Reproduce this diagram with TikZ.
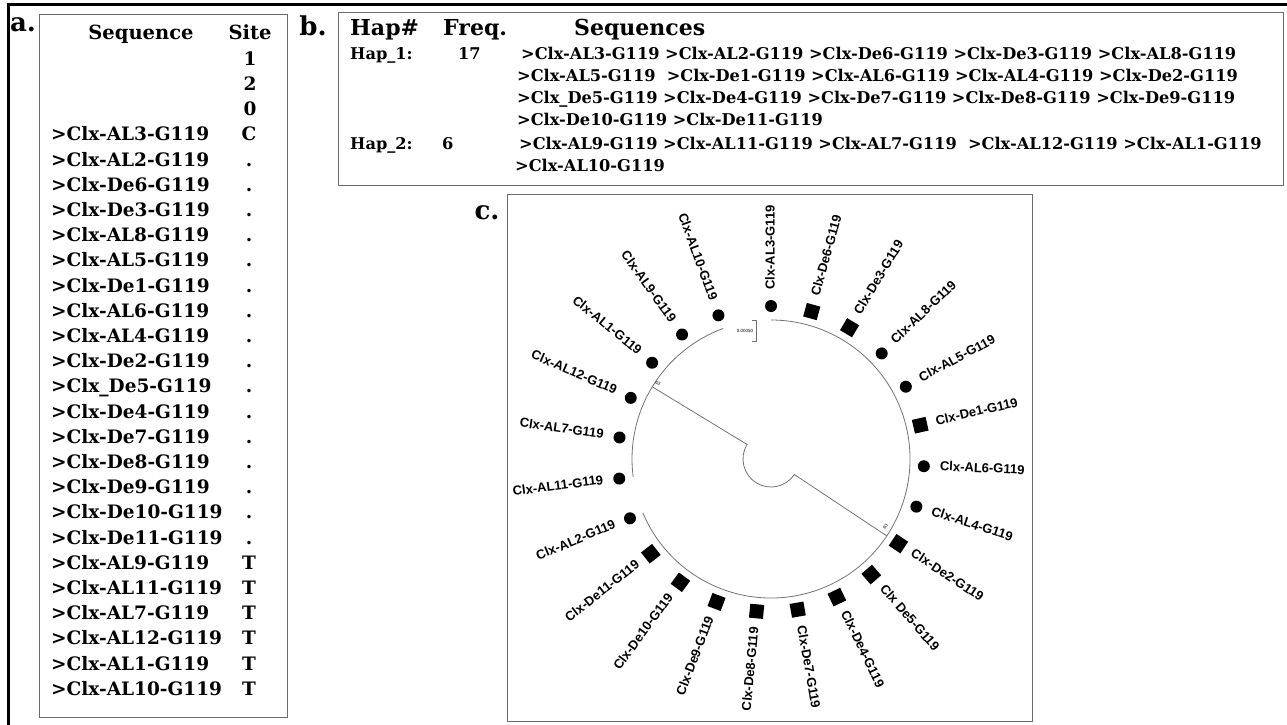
\documentclass[tikz,border=0pt]{standalone}
\usepackage{fontspec}
\setmainfont{DejaVu Serif}
\setsansfont{Liberation Sans}
\usepackage{tikz}

\definecolor{boxgray}{rgb}{0.42,0.42,0.42}
\definecolor{treegray}{rgb}{0.45,0.45,0.45}

\begin{document}
\begin{tikzpicture}[x=1pt,y=-1pt,line join=miter,
  panelbox/.style={draw=boxgray,line width=0.9pt},
  tag/.style={inner sep=0pt,font=\fontsize{26}{26}\selectfont\bfseries},
  headA/.style={inner sep=0pt,text height=14pt,text depth=4pt,font=\fontsize{19.5}{19.5}\selectfont\bfseries},
  rowA/.style={inner sep=0pt,anchor=west,text height=13pt,text depth=3pt,font=\fontsize{18.5}{18.5}\selectfont\bfseries},
  siteA/.style={inner sep=0pt,text height=13pt,text depth=3pt,font=\fontsize{18.5}{18.5}\selectfont\bfseries},
  headB/.style={inner sep=0pt,anchor=west,text height=16pt,text depth=4pt,font=\fontsize{22}{22}\selectfont\bfseries},
  rowB/.style={inner sep=0pt,anchor=west,text height=12pt,text depth=3pt,font=\fontsize{16.2}{16.2}\selectfont\bfseries},
  leafdot/.style={circle,fill=black,inner sep=0pt,minimum size=12pt},
  leafbox/.style={rectangle,fill=black,inner sep=0pt,minimum size=14pt},
  leaflabel/.style={inner sep=0pt,text height=9pt,text depth=2pt,font=\fontsize{13}{13}\selectfont\sffamily\bfseries},
  branch/.style={draw=treegray,line width=0.8pt},
  tiny/.style={inner sep=0pt,font=\fontsize{4.5}{4.5}\selectfont\sffamily}]
\useasboundingbox (0,0) rectangle (1287,725);
%%
% Frame
\draw[line width=3pt] (8,725) -- (8,5) -- (1287,5);
%%
% Panel a: site table
\draw[panelbox] (39,14) rectangle (287,717);
\node[tag] (taga) at (23,25) {a.};
\node[headA] (hseq) at (141,35) {Sequence};
\node[headA] (hsite) at (250,35) {Site};
\node[siteA] (d1) at (250,60.2) {1};
\node[siteA] (d2) at (250,85.4) {2};
\node[siteA] (d3) at (250,110.6) {0};
\foreach \nm/\st [count=\k] in {-AL3/C,-AL2/.,-De6/.,-De3/.,-AL8/.,-AL5/.,-De1/.,-AL6/.,
    -AL4/.,-De2/.,\_De5/.,-De4/.,-De7/.,-De8/.,-De9/.,-De10/.,-De11/.,
    -AL9/T,-AL11/T,-AL7/T,-AL12/T,-AL1/T,-AL10/T}{
  \node[rowA] (a\k) at (51,{110.6+25.2*\k}) {>Clx\nm-G119};
  \node[siteA] (s\k) at (249,{110.6+25.2*\k}) {\st};
}
%%
% Panel b: haplotypes
\draw[panelbox] (338,12) rectangle (1283,185);
\node[tag] (tagb) at (313,26) {b.};
\node[headB] (hhap) at (350,30) {Hap\#};
\node[headB] (hfreq) at (443,30) {Freq.};
\node[headB] (hseqs) at (574,30) {Sequences};
\node[rowB] (hap1) at (350,55) {Hap\_1:};
\node[rowB] (f1) at (458,55) {17};
\node[rowB] (b1) at (521,55) {>Clx-AL3-G119 >Clx-AL2-G119 >Clx-De6-G119 >Clx-De3-G119 >Clx-AL8-G119};
\node[rowB] (b2) at (517,77) {>Clx-AL5-G119\ \ >Clx-De1-G119 >Clx-AL6-G119 >Clx-AL4-G119 >Clx-De2-G119};
\node[rowB] (b3) at (517,99) {>Clx\_De5-G119 >Clx-De4-G119 >Clx-De7-G119 >Clx-De8-G119 >Clx-De9-G119};
\node[rowB] (b4) at (517,121) {>Clx-De10-G119 >Clx-De11-G119};
\node[rowB] (hap2) at (350,145) {Hap\_2:};
\node[rowB] (f2) at (442,145) {6};
\node[rowB] (b5) at (519,145) {>Clx-AL9-G119 >Clx-AL11-G119 >Clx-AL7-G119\ \ >Clx-AL12-G119 >Clx-AL1-G119};
\node[rowB] (b6) at (515,167) {>Clx-AL10-G119};
%%
% Panel c: circular tree
\draw[panelbox] (507,194) rectangle (1032,721);
\node[tag] (tagc) at (487,213) {c.};
\begin{scope}[shift={(771,459)},yscale=-1]
  \coordinate (root) at (0,0);
  % clades
  \draw[branch] (-157.2:139) arc[start angle=-157.2,end angle=90,radius=139];
  \draw[branch] (110.1:139) arc[start angle=110.1,end angle=187.35,radius=139];
  \draw[branch] (148.7:139) -- (148.7:28) arc[start angle=148.7,end angle=326.4,radius=28] -- (326.4:139);
  \node[tiny,rotate=-31] (boot1) at (146.3:136) {63};
  \node[tiny,rotate=58] (boot2) at (-30.6:133) {63};
  % leaves
  \foreach \nm/\kind [count=\i from 0] in {AL3/leafdot,De6/leafbox,De3/leafbox,AL8/leafdot,
      AL5/leafdot,De1/leafbox,AL6/leafdot,AL4/leafdot,De2/leafbox,De5/leafbox,De4/leafbox,
      De7/leafbox,De8/leafbox,De9/leafbox,De10/leafbox,De11/leafbox,AL2/leafdot,AL11/leafdot,
      AL7/leafdot,AL12/leafdot,AL1/leafdot,AL9/leafdot,AL10/leafdot}{
    \pgfmathsetmacro\ang{90-15.45*\i}
    \node[\kind,rotate=\ang] (leaf\i) at (\ang:153) {};
    \ifnum\i=9
      \node[leaflabel,anchor=west,rotate=\ang] (lab\i) at (\ang:169) {Clx De5-G119};
    \else\ifnum\i<12
      \node[leaflabel,anchor=west,rotate=\ang] (lab\i) at (\ang:169) {Clx-\nm-G119};
    \else
      \pgfmathsetmacro\flip{\ang+180}
      \node[leaflabel,anchor=east,rotate=\flip] (lab\i) at (\ang:169) {Clx-\nm-G119};
    \fi\fi
  }
\end{scope}
% scale bar
\draw[branch,line width=0.6pt] (752,320) -- (756,320) -- (756,341) -- (752,341);
\node[tiny] (scale) at (745,331) {0.00050};
%
\end{tikzpicture}
\end{document}
